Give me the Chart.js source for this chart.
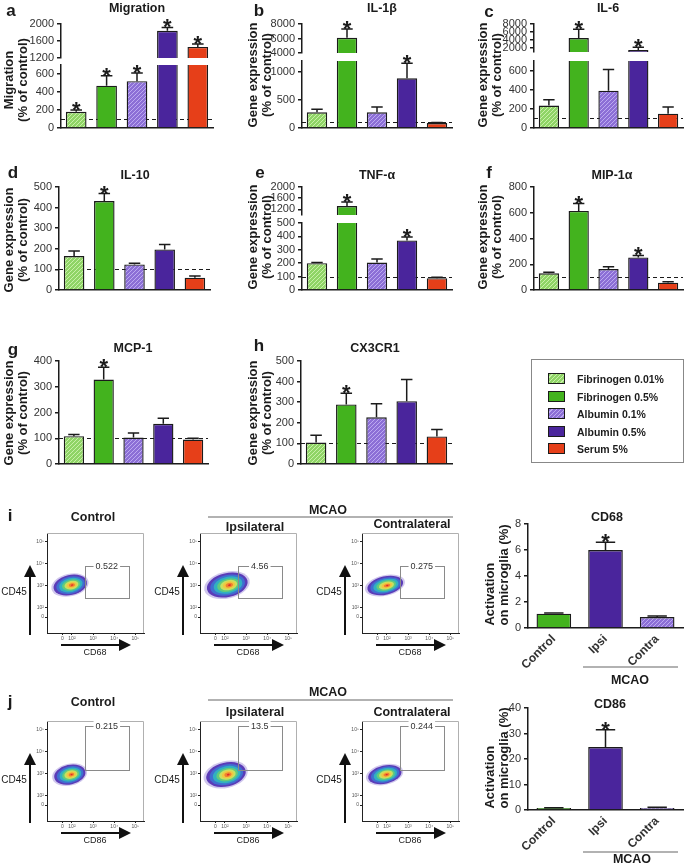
<!DOCTYPE html>
<html>
<head>
<meta charset="utf-8">
<script src="https://cdn.jsdelivr.net/npm/chart.js@4.4.1/dist/chart.umd.min.js"></script>
<style>
  body { margin: 0; background: #fff; }
  #fig { position: relative; width: 685px; height: 865px; overflow: hidden; font-family: "Liberation Sans", Arial, sans-serif; color: #1b1b1b; }
  #fig canvas { position: absolute; }
  .t { position: absolute; transform: translate(-50%, -50%); white-space: pre; font-weight: bold; line-height: 14px; text-align: center; }
  #legend { position: absolute; left: 531px; top: 359px; width: 151px; height: 102px; border: 1px solid #888; }
  #legend .row { position: absolute; left: 16px; height: 12px; font-size: 10.5px; font-weight: bold; line-height: 12px; }
  #legend .sw { position: absolute; left: 0; top: 0; width: 15px; height: 9px; border: 1.5px solid #1b1b1b; }
  #legend .lab { position: absolute; left: 29px; top: 0; white-space: nowrap; }
  svg { position: absolute; left: 0; top: 0; }
</style>
</head>
<body>
<div id="fig"></div>
<script>
// groups for panels a-h
const groups = ["Fibrinogen 0.01%", "Fibrinogen 0.5%", "Albumin 0.1%", "Albumin 0.5%", "Serum 5%"];

const migration = [180, 470, 520, 1840, 1460];
const migrationErr = [20, 110, 90, 80, 70];
const migrationSig = [1, 1, 1, 1, 1];

const il1b = [280, 6100, 280, 890, 90];
const il1bErr = [55, 1200, 95, 270, 8];
const il1bSig = [0, 1, 0, 1, 0];

const il6 = [235, 4500, 390, 1500, 150];
const il6Err = [60, 2200, 220, 700, 70];
const il6Sig = [0, 1, 0, 1, 0];

const il10 = [165, 432, 124, 197, 60];
const il10Err = [24, 36, 6, 24, 8];
const il10Sig = [0, 1, 0, 0, 0];

const tnfa = [200, 1320, 205, 370, 88];
const tnfaErr = [5, 140, 27, 25, 7];
const tnfaSig = [0, 1, 0, 1, 0];

const mip1a = [130, 614, 163, 253, 57];
const mip1aErr = [7, 57, 18, 15, 7];
const mip1aSig = [0, 1, 0, 1, 0];

const mcp1 = [108, 328, 103, 156, 95];
const mcp1Err = [7, 48, 17, 22, 5];
const mcp1Sig = [0, 1, 0, 0, 0];

const cx3cr1 = [104, 289, 227, 305, 134];
const cx3cr1Err = [36, 55, 65, 105, 33];
const cx3cr1Sig = [0, 1, 0, 0, 0];

// microglia activation (i, j)
const cdGroups = ["Control", "Ipsi", "Contra"];
const cd68 = [1.1, 6.0, 0.84];
const cd68Err = [0.05, 0.6, 0.08];
const cd68Sig = [0, 1, 0];
const cd86 = [0.8, 24.7, 0.8];
const cd86Err = [0.1, 6.8, 0.3];
const cd86Sig = [0, 1, 0];

// tick labels
const migTicksTop = [1200, 1600, 2000];
const migTicksBottom = [0, 200, 400, 600];
const il1bTicksTop = [4000, 6000, 8000];
const il1bTicksBottom = [0, 500, 1000];
const il6TicksTop = [2000, 4000, 6000, 8000];
const il6TicksBottom = [0, 200, 400, 600];
const il10Ticks = [0, 100, 200, 300, 400, 500];
const tnfaTicksTop = [1200, 1600, 2000];
const tnfaTicksBottom = [0, 100, 200, 300, 400, 500];
const mip1aTicks = [0, 200, 400, 600, 800];
const mcp1Ticks = [0, 100, 200, 300, 400];
const cx3cr1Ticks = [0, 100, 200, 300, 400, 500];
const cd68Ticks = [0, 2, 4, 6, 8];
const cd86Ticks = [0, 10, 20, 30, 40];

// flow plots: axis in decades (0 is drawn at 1.55)
const flowTickPos = [1.55, 2, 3, 4, 5];
const flowTickLabels = ["0", "10²", "10³", "10⁴", "10⁵"];
const flowNames = ["Control", "Ipsilateral", "Contralateral"];
const cd68Gate = ["0.522", "4.56", "0.275"];
const cd68CenterX = [1.92, 2.11, 1.92];
const cd68CenterY = [3.02, 3.02, 3.0];
const cd68SpreadX = [0.8, 0.98, 0.86];
const cd68SpreadY = [0.46, 0.55, 0.42];
const cd68GateX = [2.6, 4.7];
const cd68GateY = [2.45, 3.9];
const cd86Gate = ["0.215", "13.5", "0.244"];
const cd86CenterX = [1.9, 2.05, 1.9];
const cd86CenterY = [2.95, 2.95, 2.95];
const cd86SpreadX = [0.75, 0.95, 0.8];
const cd86SpreadY = [0.45, 0.55, 0.42];
const cd86GateX = [2.6, 4.7];
const cd86GateY = [3.2, 5.2];
const contourLevels = [1.12, 1, 0.85, 0.7, 0.55, 0.42, 0.3, 0.18, 0.07];

const fig = document.getElementById("fig");
Chart.defaults.font.family = '"Liberation Sans", Arial, sans-serif';
Chart.defaults.animation = false;

function hatch(base, line) {
  const c = document.createElement("canvas");
  c.width = 4; c.height = 4;
  const g = c.getContext("2d");
  g.fillStyle = base;
  g.fillRect(0, 0, 4, 4);
  g.strokeStyle = line;
  g.lineWidth = 1;
  g.beginPath();
  g.moveTo(0, 4); g.lineTo(4, 0);
  g.moveTo(-1, 1); g.lineTo(1, -1);
  g.moveTo(3, 5); g.lineTo(5, 3);
  g.stroke();
  return g.createPattern(c, "repeat");
}

const GREEN = "#43b31e", PURPLE = "#4a259c", RED = "#e63f19";
const lightGreen = hatch("#8fd466", "#c8f0a8");
const lightPurple = hatch("#8c6fd6", "#bcaaf0");
const groupColors = [lightGreen, GREEN, lightPurple, PURPLE, RED];
const cdColors = [GREEN, PURPLE, lightPurple];

function addCanvas(x, y, w, h) {
  const c = document.createElement("canvas");
  c.width = w; c.height = h;
  c.style.left = x + "px"; c.style.top = y + "px";
  c.style.width = w + "px"; c.style.height = h + "px";
  fig.appendChild(c);
  return c;
}

function label(str, cx, cy, css) {
  const d = document.createElement("div");
  d.className = "t";
  d.textContent = str;
  d.style.left = cx + "px";
  d.style.top = cy + "px";
  Object.assign(d.style, css || {});
  fig.appendChild(d);
  return d;
}

// error bars, asterisks and the dashed 100% line
const barExtras = {
  id: "barExtras",
  beforeDatasetsDraw(chart, args, o) {
    if (o.ref == null) return;
    const { ctx, chartArea: a, scales: { y } } = chart;
    if (o.ref < y.min || o.ref > y.max) return;
    const py = Math.round(y.getPixelForValue(o.ref)) + 0.5;
    ctx.save();
    ctx.setLineDash([4, 3]);
    ctx.strokeStyle = "#1b1b1b";
    ctx.lineWidth = 1.2;
    ctx.beginPath();
    ctx.moveTo(a.left, py);
    ctx.lineTo(a.right, py);
    ctx.stroke();
    ctx.restore();
  },
  afterDatasetsDraw(chart, args, o) {
    const { ctx, scales: { y } } = chart;
    const ds = chart.data.datasets[0];
    chart.getDatasetMeta(0).data.forEach((bar, i) => {
      const v = ds.data[i], e = o.err[i];
      if (v < y.min || v > y.max) return;
      const y0 = y.getPixelForValue(v), y1 = y.getPixelForValue(v + e);
      const half = bar.width * 0.28;
      ctx.save();
      ctx.strokeStyle = "#1b1b1b";
      ctx.lineWidth = 1.5;
      ctx.beginPath();
      ctx.moveTo(bar.x, y0);
      ctx.lineTo(bar.x, y1);
      ctx.moveTo(bar.x - half, y1);
      ctx.lineTo(bar.x + half, y1);
      ctx.stroke();
      if (o.sig[i]) {
        ctx.fillStyle = "#1b1b1b";
        ctx.font = 'bold 22px "Liberation Sans", Arial';
        ctx.textAlign = "center";
        ctx.textBaseline = "alphabetic";
        ctx.fillText("*", bar.x, y1 + 7);
      }
      ctx.restore();
    });
  }
};

const AXW = 44, PAD = 20;
function bars(p) {
  const bot = p.bottom || 10;
  const c = addCanvas(p.x0 - AXW, p.yTop - PAD, p.x1 - p.x0 + AXW + 2, p.yBot - p.yTop + PAD + bot);
  return new Chart(c, {
    type: "bar",
    data: {
      labels: p.labels,
      datasets: [{
        data: p.data,
        backgroundColor: p.colors,
        borderColor: "#1b1b1b",
        borderWidth: 1.4,
        borderSkipped: "start",
        barPercentage: p.barPct || 0.68,
        categoryPercentage: 1,
        clip: 0
      }]
    },
    options: {
      responsive: false,
      animation: false,
      devicePixelRatio: 1,
      layout: { padding: { top: PAD, right: 2, left: 0, bottom: p.xAxis ? 0 : bot } },
      plugins: {
        legend: { display: false },
        tooltip: { enabled: false },
        barExtras: { err: p.err, sig: p.sig, ref: p.ref }
      },
      scales: {
        x: {
          display: !!p.xAxis,
          grid: { display: false },
          border: { color: "#1b1b1b", width: 1.5 },
          ticks: {
            display: !!p.tickLabels,
            minRotation: 45, maxRotation: 45,
            font: { size: 12, weight: "bold" },
            color: "#333",
            padding: -4
          },
          afterFit: s => { if (p.xAxis) s.height = bot; }
        },
        y: {
          min: p.min,
          max: p.max,
          afterBuildTicks: s => { s.ticks = p.ticks.map(v => ({ value: v })); },
          ticks: { autoSkip: false, callback: v => String(v), font: { size: 11 }, color: "#333", padding: 3 },
          grid: { drawOnChartArea: false, tickLength: 4, color: "#1b1b1b", lineWidth: 1.5 },
          border: { color: "#1b1b1b", width: 1.5 },
          afterFit: s => { s.width = AXW; }
        }
      }
    },
    plugins: [barExtras]
  });
}

// a - Migration (broken axis)
bars({ x0: 61, x1: 213, yTop: 24, yBot: 58, min: 1200, max: 2000, ticks: migTicksTop, labels: groups, data: migration, err: migrationErr, sig: migrationSig, colors: groupColors });
bars({ x0: 61, x1: 213, yTop: 65, yBot: 128, min: 0, max: 700, ticks: migTicksBottom, labels: groups, data: migration, err: migrationErr, sig: migrationSig, colors: groupColors, ref: 100, xAxis: true });
// b - IL-1beta
bars({ x0: 302, x1: 452, yTop: 24, yBot: 53, min: 4000, max: 8000, ticks: il1bTicksTop, labels: groups, data: il1b, err: il1bErr, sig: il1bSig, colors: groupColors });
bars({ x0: 302, x1: 452, yTop: 61, yBot: 128, min: 0, max: 1200, ticks: il1bTicksBottom, labels: groups, data: il1b, err: il1bErr, sig: il1bSig, colors: groupColors, ref: 100, xAxis: true });
// c - IL-6
bars({ x0: 534, x1: 683, yTop: 24, yBot: 52, min: 1000, max: 8000, ticks: il6TicksTop, labels: groups, data: il6, err: il6Err, sig: il6Sig, colors: groupColors });
bars({ x0: 534, x1: 683, yTop: 61, yBot: 128, min: 0, max: 700, ticks: il6TicksBottom, labels: groups, data: il6, err: il6Err, sig: il6Sig, colors: groupColors, ref: 100, xAxis: true });
// d - IL-10
bars({ x0: 59, x1: 210, yTop: 187, yBot: 290, min: 0, max: 500, ticks: il10Ticks, labels: groups, data: il10, err: il10Err, sig: il10Sig, colors: groupColors, ref: 100, xAxis: true });
// e - TNF-alpha (broken axis)
bars({ x0: 302, x1: 452, yTop: 187, yBot: 215, min: 1000, max: 2000, ticks: tnfaTicksTop, labels: groups, data: tnfa, err: tnfaErr, sig: tnfaSig, colors: groupColors });
bars({ x0: 302, x1: 452, yTop: 223, yBot: 290, min: 0, max: 500, ticks: tnfaTicksBottom, labels: groups, data: tnfa, err: tnfaErr, sig: tnfaSig, colors: groupColors, ref: 100, xAxis: true });
// f - MIP-1alpha
bars({ x0: 534, x1: 683, yTop: 187, yBot: 290, min: 0, max: 800, ticks: mip1aTicks, labels: groups, data: mip1a, err: mip1aErr, sig: mip1aSig, colors: groupColors, ref: 100, xAxis: true });
// g - MCP-1
bars({ x0: 59, x1: 208, yTop: 361, yBot: 464, min: 0, max: 400, ticks: mcp1Ticks, labels: groups, data: mcp1, err: mcp1Err, sig: mcp1Sig, colors: groupColors, ref: 100, xAxis: true });
// h - CX3CR1
bars({ x0: 301, x1: 452, yTop: 361, yBot: 464, min: 0, max: 500, ticks: cx3cr1Ticks, labels: groups, data: cx3cr1, err: cx3cr1Err, sig: cx3cr1Sig, colors: groupColors, ref: 100, xAxis: true });
// i, j - activation bars
bars({ x0: 528, x1: 683, yTop: 524, yBot: 628, min: 0, max: 8, ticks: cd68Ticks, labels: cdGroups, data: cd68, err: cd68Err, sig: cd68Sig, colors: cdColors, xAxis: true, tickLabels: true, bottom: 50, barPct: 0.67 });
bars({ x0: 528, x1: 683, yTop: 708, yBot: 810, min: 0, max: 40, ticks: cd86Ticks, labels: cdGroups, data: cd86, err: cd86Err, sig: cd86Sig, colors: cdColors, xAxis: true, tickLabels: true, bottom: 50, barPct: 0.67 });

// flow cytometry density plots
const contourColors = ["rgba(150,130,215,0.45)", "#5b3cb8", "#3f6fd0", "#31b0c0", "#62cb7c", "#c9e060", "#f2c640", "#f08030", "#e02828"];
const flowDraw = {
  id: "flowDraw",
  beforeDatasetsDraw(chart, args, o) {
    const { ctx, chartArea: a, scales: { x, y } } = chart;
    ctx.save();
    ctx.strokeStyle = "#b0b0b0";
    ctx.lineWidth = 1;
    ctx.beginPath();
    ctx.moveTo(a.left, a.top + 0.5);
    ctx.lineTo(a.right - 0.5, a.top + 0.5);
    ctx.lineTo(a.right - 0.5, a.bottom);
    ctx.stroke();
    const px = x.getPixelForValue(o.cx), py = y.getPixelForValue(o.cy);
    const rx = x.getPixelForValue(o.cx + o.sx) - px;
    const ry = py - y.getPixelForValue(o.cy + o.sy);
    contourLevels.forEach((f, k) => {
      ctx.fillStyle = contourColors[k];
      ctx.beginPath();
      ctx.ellipse(px + (1 - f) * rx * 0.12, py, rx * f, ry * f, -0.22, 0, 2 * Math.PI);
      ctx.fill();
    });
    const gx0 = x.getPixelForValue(o.gx[0]), gx1 = x.getPixelForValue(o.gx[1]);
    const gy0 = y.getPixelForValue(o.gy[0]), gy1 = y.getPixelForValue(o.gy[1]);
    ctx.strokeStyle = "#8a8a8a";
    ctx.strokeRect(Math.round(gx0) + 0.5, Math.round(gy1) + 0.5, Math.round(gx1 - gx0), Math.round(gy0 - gy1));
    ctx.font = '9px "Liberation Sans", Arial';
    const tw = ctx.measureText(o.label).width;
    const mid = (gx0 + gx1) / 2;
    ctx.fillStyle = "#fff";
    ctx.fillRect(mid - tw / 2 - 2, gy1 - 5, tw + 4, 10);
    ctx.fillStyle = "#333";
    ctx.textAlign = "center";
    ctx.textBaseline = "middle";
    ctx.fillText(o.label, mid, gy1 + 0.5);
    ctx.restore();
  }
};

const FAX = 14, FBOT = 10, FW = 97, FH = 100;
function flow(x0, y0, k, cx, cy, sx, sy, gx, gy, gate) {
  const c = addCanvas(x0 - FAX, y0 - 6, FW + FAX + 4, FH + 6 + FBOT);
  const axis = (fit) => ({
    type: "linear",
    min: 0.82,
    max: 5.41,
    afterBuildTicks: s => { s.ticks = flowTickPos.map(v => ({ value: v })); },
    ticks: { autoSkip: false, maxRotation: 0, callback: (v, i) => flowTickLabels[i], font: { size: 5 }, color: "#555", padding: 1 },
    grid: { drawOnChartArea: false, tickLength: 2, color: "#222" },
    border: { color: "#222", width: 1 },
    afterFit: fit
  });
  new Chart(c, {
    type: "scatter",
    data: { datasets: [{ data: [{ x: cx[k], y: cy[k] }], pointRadius: 0 }] },
    options: {
      responsive: false,
      animation: false,
      devicePixelRatio: 1,
      layout: { padding: { top: 6, right: 4, left: 0, bottom: 0 } },
      plugins: {
        legend: { display: false },
        tooltip: { enabled: false },
        flowDraw: { cx: cx[k], cy: cy[k], sx: sx[k], sy: sy[k], gx: gx, gy: gy, label: gate[k] }
      },
      scales: {
        x: axis(s => { s.height = FBOT; }),
        y: axis(s => { s.width = FAX; })
      }
    },
    plugins: [flowDraw]
  });
}

const flowLeft = [47, 200, 362];
const rowTop = [533, 721];
flowLeft.forEach((L, k) => {
  flow(L, rowTop[0], k, cd68CenterX, cd68CenterY, cd68SpreadX, cd68SpreadY, cd68GateX, cd68GateY, cd68Gate);
  flow(L, rowTop[1], k, cd86CenterX, cd86CenterY, cd86SpreadX, cd86SpreadY, cd86GateX, cd86GateY, cd86Gate);
});

// lines and arrows
let svg = '<svg width="685" height="865" xmlns="http://www.w3.org/2000/svg">';
svg += '<defs><marker id="ah" markerWidth="6" markerHeight="6" refX="5" refY="3" orient="auto"><path d="M0,0 L6,3 L0,6 z" fill="#111"/></marker></defs>';
rowTop.forEach(T => {
  const B = T + FH;
  flowLeft.forEach(L => {
    svg += `<line x1="${L - 17}" y1="${B + 2}" x2="${L - 17}" y2="${T + 34}" stroke="#111" stroke-width="2" marker-end="url(#ah)"/>`;
    svg += `<line x1="${L + 14}" y1="${B + 12}" x2="${L + 82}" y2="${B + 12}" stroke="#111" stroke-width="2" marker-end="url(#ah)"/>`;
  });
});
svg += '<line x1="208" y1="517" x2="453" y2="517" stroke="#999" stroke-width="1.5"/>';
svg += '<line x1="208" y1="700" x2="453" y2="700" stroke="#999" stroke-width="1.5"/>';
svg += '<line x1="583" y1="667" x2="678" y2="667" stroke="#999" stroke-width="1.5"/>';
svg += '<line x1="583" y1="852" x2="678" y2="852" stroke="#999" stroke-width="1.5"/>';
svg += '</svg>';
fig.insertAdjacentHTML("beforeend", svg);

// panel letters
const big = { fontSize: "17px" };
[["a", 11, 11], ["b", 259, 11], ["c", 489, 12], ["d", 13, 173], ["e", 260, 173], ["f", 489, 173],
 ["g", 13, 350], ["h", 259, 346], ["i", 10, 516], ["j", 10, 702]].forEach(([s, x, y]) => label(s, x, y, big));

// panel titles
const ttl = { fontSize: "12.5px" };
[["Migration", 137, 8], ["IL-1β", 382, 8], ["IL-6", 608, 8], ["IL-10", 135, 175], ["TNF-α", 377, 175],
 ["MIP-1α", 612, 175], ["MCP-1", 133, 348], ["CX3CR1", 375, 348], ["CD68", 607, 517], ["CD86", 610, 704]]
  .forEach(([s, x, y]) => label(s, x, y, ttl));

// y-axis titles
const rot = { fontSize: "13px", transform: "translate(-50%, -50%) rotate(-90deg)" };
label("Migration\n(% of control)", 16, 80, rot);
[[260, 75], [490, 75], [16, 240], [260, 237], [490, 237], [16, 413], [260, 413]]
  .forEach(([x, y]) => label("Gene expression\n(% of control)", x, y, rot));
label("Activation\non microglia (%)", 497, 575, Object.assign({}, rot, { textAlign: "left" }));
label("Activation\non microglia (%)", 497, 758, Object.assign({}, rot, { textAlign: "left" }));

// flow plot headers and axis names
const hdr = { fontSize: "12.5px" };
[[517, 510, 527, 524], [702, 692, 712, 712]].forEach(([c, m, ip, co]) => {
  label(flowNames[0], 93, c, hdr);
  label("MCAO", 328, m, hdr);
  label(flowNames[1], 255, ip, hdr);
  label(flowNames[2], 412, co, hdr);
});
rowTop.forEach((T, r) => {
  flowLeft.forEach(L => {
    label("CD45", L - 33, T + 59, { fontWeight: "normal", fontSize: "10px" });
    label(r === 0 ? "CD68" : "CD86", L + 48, T + FH + 19, { fontWeight: "normal", fontSize: "9px" });
  });
});
label("MCAO", 630, 680, hdr);
label("MCAO", 632, 859, hdr);

// legend
const legend = document.createElement("div");
legend.id = "legend";
const swatchCss = [
  "repeating-linear-gradient(-45deg, #8fd466 0 2px, #c8f0a8 2px 3px)", GREEN,
  "repeating-linear-gradient(-45deg, #8c6fd6 0 2px, #bcaaf0 2px 3px)", PURPLE, RED
];
groups.forEach((g, i) => {
  const row = document.createElement("div");
  row.className = "row";
  row.style.top = (13 + i * 17.5) + "px";
  const sw = document.createElement("div");
  sw.className = "sw";
  sw.style.background = swatchCss[i];
  const lab = document.createElement("div");
  lab.className = "lab";
  lab.textContent = g;
  row.appendChild(sw);
  row.appendChild(lab);
  legend.appendChild(row);
});
fig.appendChild(legend);
</script>
</body>
</html>
